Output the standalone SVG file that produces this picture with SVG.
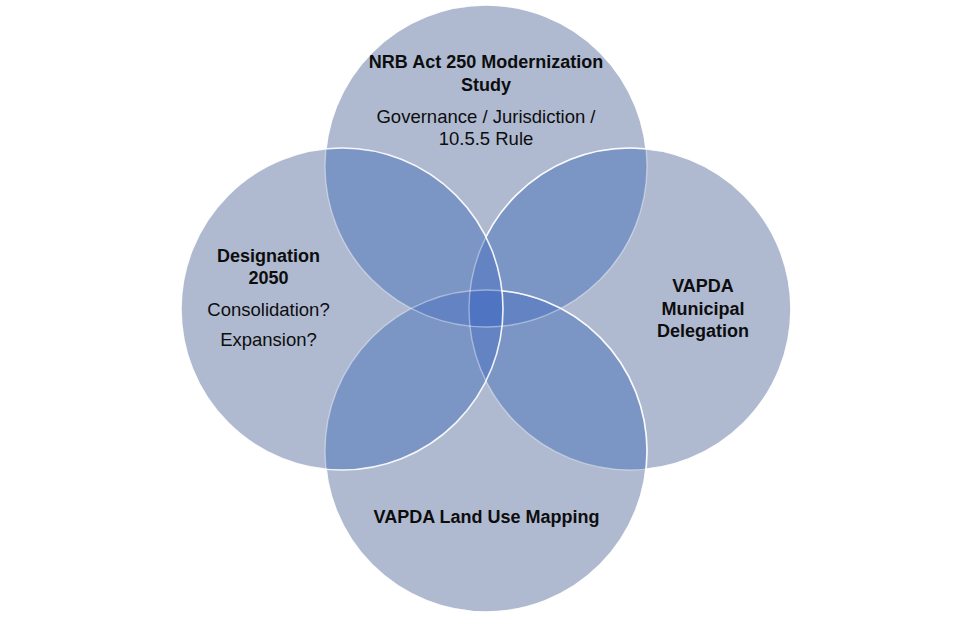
<svg xmlns="http://www.w3.org/2000/svg" width="973" height="619" viewBox="0 0 973 619">
<style>
.one{fill:#AFBAD1}
.two{fill:#7B95C4}
.three{fill:#6383C3}
.four{fill:#4F74C2}
.edge{fill:none;stroke:#fff;stroke-width:1.6;stroke-opacity:0.9}
.faint{fill:none;stroke:#fff;stroke-width:1.4;stroke-opacity:0.4}
text{font-family:"Liberation Sans",Arial,sans-serif;fill:#0d0d0d;text-anchor:middle}
.b{font-weight:bold;font-size:18px}
.r{font-size:18.5px}
</style>
<defs>
<clipPath id="cT"><circle cx="486" cy="166" r="161"/></clipPath>
<clipPath id="cR"><circle cx="630" cy="309" r="161"/></clipPath>
<clipPath id="cB"><circle cx="486" cy="451" r="161"/></clipPath>
<clipPath id="cL"><circle cx="342" cy="309" r="161"/></clipPath>
<mask id="mT" maskUnits="userSpaceOnUse" x="0" y="0" width="973" height="619">
<rect width="973" height="619" fill="#fff"/>
<circle cx="630" cy="309" r="161" fill="#000"/>
<circle cx="486" cy="451" r="161" fill="#000"/>
<circle cx="342" cy="309" r="161" fill="#000"/>
</mask>
<mask id="mR" maskUnits="userSpaceOnUse" x="0" y="0" width="973" height="619">
<rect width="973" height="619" fill="#fff"/>
<circle cx="486" cy="451" r="161" fill="#000"/>
<circle cx="342" cy="309" r="161" fill="#000"/>
</mask>
<mask id="mB" maskUnits="userSpaceOnUse" x="0" y="0" width="973" height="619">
<rect width="973" height="619" fill="#fff"/>
<circle cx="342" cy="309" r="161" fill="#000"/>
</mask>
</defs>
<rect width="973" height="619" fill="#fff"/>
<g id="node-top">
<circle class="one" cx="486" cy="166" r="161"/>
<text class="b" x="486" y="68">NRB Act 250 Modernization</text>
<text class="b" x="486" y="91">Study</text>
<text class="r" x="486" y="123">Governance / Jurisdiction /</text>
<text class="r" x="486" y="145">10.5.5 Rule</text>
</g>
<g id="node-right">
<circle class="one" cx="630" cy="309" r="161"/>
<text class="b" x="703" y="292">VAPDA</text>
<text class="b" x="703" y="315">Municipal</text>
<text class="b" x="703" y="337">Delegation</text>
</g>
<g id="node-bottom">
<circle class="one" cx="486" cy="451" r="161"/>
<text class="b" x="486.5" y="523">VAPDA Land Use Mapping</text>
</g>
<g id="node-left">
<circle class="one" cx="342" cy="309" r="161"/>
<text class="b" x="268.5" y="262">Designation</text>
<text class="b" x="268.5" y="284">2050</text>
<text class="r" x="268.5" y="316">Consolidation?</text>
<text class="r" x="268.5" y="346">Expansion?</text>
</g>
<g id="overlaps">
<circle class="two" cx="630" cy="309" r="161" clip-path="url(#cT)"/>
<circle class="two" cx="342" cy="309" r="161" clip-path="url(#cT)"/>
<circle class="two" cx="630" cy="309" r="161" clip-path="url(#cB)"/>
<circle class="two" cx="342" cy="309" r="161" clip-path="url(#cB)"/>
<circle class="two" cx="486" cy="451" r="161" clip-path="url(#cT)"/>
<circle class="two" cx="630" cy="309" r="161" clip-path="url(#cL)"/>
<g clip-path="url(#cT)"><circle class="three" cx="630" cy="309" r="161" clip-path="url(#cL)"/></g>
<g clip-path="url(#cT)"><circle class="three" cx="342" cy="309" r="161" clip-path="url(#cB)"/></g>
<g clip-path="url(#cT)"><circle class="three" cx="630" cy="309" r="161" clip-path="url(#cB)"/></g>
<g clip-path="url(#cB)"><circle class="three" cx="630" cy="309" r="161" clip-path="url(#cL)"/></g>
<g clip-path="url(#cT)"><g clip-path="url(#cB)"><circle class="four" cx="630" cy="309" r="161" clip-path="url(#cL)"/></g></g>
</g>
<g id="outlines">
<circle class="faint" cx="486" cy="166" r="161"/>
<circle class="edge" cx="486" cy="166" r="161" mask="url(#mT)"/>
<circle class="faint" cx="630" cy="309" r="161"/>
<circle class="edge" cx="630" cy="309" r="161" mask="url(#mR)"/>
<circle class="faint" cx="486" cy="451" r="161"/>
<circle class="edge" cx="486" cy="451" r="161" mask="url(#mB)"/>
<circle class="edge" cx="342" cy="309" r="161"/>
</g>
</svg>
